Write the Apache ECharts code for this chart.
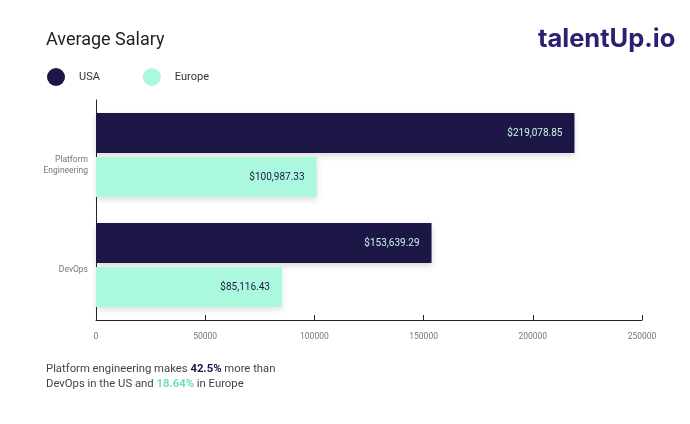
<!DOCTYPE html>
<html>
<head>
<meta charset="utf-8">
<script src="https://cdn.jsdelivr.net/npm/echarts@6/dist/echarts.min.js"></script>
<style>html,body{margin:0;padding:0;background:#fff}#c{width:690px;height:424px}</style>
</head>
<body>
<div id="c"></div>
<script>
const categories = ['Platform\nEngineering', 'DevOps'];
const usaValues = [219078.85, 153639.29];
const europeValues = [100987.33, 85116.43];
const xTicks = [0, 50000, 100000, 150000, 200000, 250000];

const NAVY = '#1c1747';
const MINT = '#aaf9df';
const FONT = 'Roboto, "Noto Sans", sans-serif';

const fmt = v => '$' + v.toLocaleString('en-US', {minimumFractionDigits: 2, maximumFractionDigits: 2});

const chart = echarts.init(document.getElementById('c'));
chart.setOption({
  backgroundColor: '#fff',
  animation: false,
  textStyle: {fontFamily: FONT},
  title: {
    text: 'Average Salary', left: 41, top: 26,
    textStyle: {fontSize: 18, fontWeight: 'normal', color: '#222', fontFamily: FONT}
  },
  legend: {
    left: 42, top: 63, icon: 'circle', itemWidth: 18, itemHeight: 18, itemGap: 43,
    textStyle: {fontSize: 11, color: '#333', padding: [0, 0, 0, 9], fontFamily: FONT},
    data: ['USA', 'Europe']
  },
  grid: {left: 96, right: 48, top: 100, bottom: 104},
  xAxis: {
    type: 'value', min: xTicks[0], max: xTicks[xTicks.length - 1], interval: 50000,
    splitLine: {show: false},
    axisLine: {show: true, lineStyle: {color: '#222', width: 1}},
    axisTick: {show: true, length: 5, inside: true, lineStyle: {color: '#222'}},
    axisLabel: {fontSize: 8.5, color: '#777', margin: 12, formatter: v => String(v)}
  },
  yAxis: {
    type: 'category', inverse: true, data: categories,
    axisLine: {show: true, lineStyle: {color: '#222', width: 1}},
    axisTick: {show: false},
    axisLabel: {fontSize: 8.5, color: '#777', align: 'right', verticalAlign: 'top', lineHeight: 10.5, margin: 8}
  },
  series: [
    {
      name: 'USA', type: 'bar', data: usaValues, barWidth: 40, barGap: '10%',
      itemStyle: {color: NAVY, shadowColor: 'rgba(0,0,0,0.15)', shadowBlur: 6, shadowOffsetY: 3},
      label: {show: true, position: 'insideRight', distance: 12, color: '#c6f7e6', fontSize: 10,
        formatter: p => fmt(p.value)}
    },
    {
      name: 'Europe', type: 'bar', data: europeValues, barWidth: 40,
      itemStyle: {color: MINT, shadowColor: 'rgba(0,0,0,0.12)', shadowBlur: 6, shadowOffsetY: 3},
      label: {show: true, position: 'insideRight', distance: 12, color: NAVY, fontSize: 10,
        formatter: p => fmt(p.value)}
    }
  ],
  graphic: [
    {
      type: 'text', left: 538, top: 26,
      style: {text: 'talentUp.io', fontSize: 25.5, fontWeight: 'bold', fill: '#2a2270', fontFamily: 'Inter, sans-serif'}
    },
    {
      type: 'text', left: 46, top: 362,
      style: {
        text: 'Platform engineering makes {b|42.5%} more than\nDevOps in the US and {g|18.64%} in Europe',
        fontSize: 11.3, fill: '#444', lineHeight: 15, fontFamily: FONT,
        rich: {
          b: {fontSize: 11.3, fontWeight: 'bold', fill: NAVY, fontFamily: FONT},
          g: {fontSize: 11.3, fontWeight: 'bold', fill: '#6ee0b4', fontFamily: FONT}
        }
      }
    }
  ]
});
</script>
</body>
</html>
